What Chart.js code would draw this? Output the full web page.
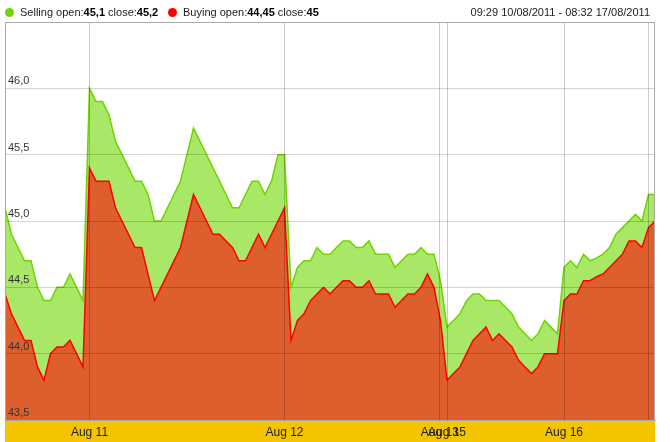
<!DOCTYPE html>
<html>
<head>
<meta charset="utf-8">
<script src="https://cdn.jsdelivr.net/npm/chart.js@4/dist/chart.umd.min.js"></script>
<style>
  body { margin: 0; background: #fff; }
  #wrap { position: relative; width: 670px; height: 442px; }
  #legend { position: absolute; left: 0; top: 0; width: 670px; height: 22px;
    font: 11px Arial, "Liberation Sans", sans-serif; color: #222; }
  #legend .dot { position: absolute; top: 8px; width: 9px; height: 9px; border-radius: 50%; }
  #legend .txt { position: absolute; top: 6px; white-space: nowrap; }
  #legend b { color: #000; }
  #range { position: absolute; right: 20px; top: 6px; white-space: nowrap; }
  canvas { position: absolute; left: 0; top: 0; }
</style>
</head>
<body>
<div id="wrap">
  <canvas id="chart" width="670" height="442"></canvas>
  <div id="legend">
    <span class="dot" style="left:4.5px;background:#6fd400"></span>
    <span class="txt" id="sellTxt" style="left:20px"></span>
    <span class="dot" style="left:167.5px;background:#ff0000"></span>
    <span class="txt" id="buyTxt" style="left:183px"></span>
    <span id="range"></span>
  </div>
</div>
<script>
// x ticks (point index where each day starts)
const tickPos = [13, 43, 66.9, 68, 86, 99]
const tickLabels = ['Aug 11', 'Aug 12', 'Aug 13', 'Aug 15', 'Aug 16', '']
const rangeText = '09:29 10/08/2011 - 08:32 17/08/2011'

// Selling price, one value per point
const selling = [
  45.10, 44.90, 44.80, 44.70, 44.70, 44.50, 44.40, 44.40, 44.50, 44.50,
  44.60, 44.50, 44.40, 46.00, 45.90, 45.90, 45.80, 45.60, 45.50, 45.40,
  45.30, 45.30, 45.20, 45.00, 45.00, 45.10, 45.20, 45.30, 45.50, 45.70,
  45.60, 45.50, 45.40, 45.30, 45.20, 45.10, 45.10, 45.20, 45.30, 45.30,
  45.20, 45.30, 45.50, 45.50, 44.50, 44.65, 44.70, 44.70, 44.80, 44.75,
  44.75, 44.80, 44.85, 44.85, 44.80, 44.80, 44.85, 44.75, 44.75, 44.75,
  44.65, 44.70, 44.75, 44.75, 44.80, 44.75, 44.75, 44.55, 44.20, 44.25,
  44.30, 44.40, 44.45, 44.45, 44.40, 44.40, 44.40, 44.35, 44.30, 44.20,
  44.15, 44.10, 44.15, 44.25, 44.20, 44.15, 44.65, 44.70, 44.65, 44.75,
  44.70, 44.72, 44.75, 44.80, 44.90, 44.95, 45.00, 45.05, 45.00, 45.20,
  45.20
]

// Buying price
const buying = [
  44.45, 44.30, 44.20, 44.10, 44.10, 43.90, 43.80, 44.00, 44.05, 44.05,
  44.10, 44.00, 43.90, 45.40, 45.30, 45.30, 45.30, 45.10, 45.00, 44.90,
  44.80, 44.80, 44.60, 44.40, 44.50, 44.60, 44.70, 44.80, 45.00, 45.20,
  45.10, 45.00, 44.90, 44.90, 44.85, 44.80, 44.70, 44.70, 44.80, 44.90,
  44.80, 44.90, 45.00, 45.10, 44.10, 44.25, 44.30, 44.40, 44.45, 44.50,
  44.45, 44.50, 44.55, 44.55, 44.50, 44.50, 44.55, 44.45, 44.45, 44.45,
  44.35, 44.40, 44.45, 44.45, 44.50, 44.60, 44.50, 44.25, 43.80, 43.85,
  43.90, 44.00, 44.10, 44.15, 44.20, 44.10, 44.15, 44.10, 44.05, 43.95,
  43.90, 43.85, 43.90, 44.00, 44.00, 44.00, 44.40, 44.45, 44.45, 44.55,
  44.55, 44.58, 44.60, 44.65, 44.70, 44.75, 44.85, 44.85, 44.80, 44.95,
  45.00
]

const fmt = v => String(+v.toFixed(2)).replace('.', ',')
document.getElementById('sellTxt').innerHTML =
  'Selling open:<b>' + fmt(selling[0]) + '</b> close:<b>' + fmt(selling[selling.length - 1]) + '</b>'
document.getElementById('buyTxt').innerHTML =
  'Buying open:<b>' + fmt(buying[0]) + '</b> close:<b>' + fmt(buying[buying.length - 1]) + '</b>'
document.getElementById('range').textContent = rangeText

Chart.defaults.font.family = 'Arial, "Liberation Sans", sans-serif'

// yellow strip under the plot + frame round the plot
const frame = {
  id: 'frame',
  beforeDraw(chart) {
    const { ctx, chartArea: a } = chart
    ctx.save()
    ctx.fillStyle = '#f4c400'
    ctx.fillRect(a.left, a.bottom, a.right - a.left, chart.height - a.bottom)
    ctx.restore()
  },
  afterDraw(chart) {
    const { ctx, chartArea: a } = chart
    ctx.save()
    ctx.strokeStyle = '#aaaaaa'
    ctx.lineWidth = 1
    ctx.strokeRect(a.left + 0.5, a.top + 0.5, a.right - a.left - 1, a.bottom - a.top)
    ctx.restore()
  }
}

new Chart(document.getElementById('chart').getContext('2d'), {
  type: 'line',
  data: {
    datasets: [{
      label: 'Selling',
      data: selling.map((v, i) => ({ x: i, y: v })),
      borderColor: '#6fd400',
      backgroundColor: '#a8e866',
      borderWidth: 1.5,
      fill: 'start',
      order: 2
    }, {
      label: 'Buying',
      data: buying.map((v, i) => ({ x: i, y: v })),
      borderColor: '#ff0000',
      backgroundColor: '#dd5f2d',
      borderWidth: 1.5,
      fill: 'start',
      order: 1
    }]
  },
  options: {
    responsive: false,
    animation: false,
    layout: { padding: { left: 5, right: 15, top: 22, bottom: 0 } },
    plugins: {
      legend: { display: false },
      title: { display: false },
      tooltip: { enabled: false }
    },
    elements: {
      point: { radius: 0 },
      line: { tension: 0 }
    },
    scales: {
      x: {
        type: 'linear',
        min: 0,
        max: 100,
        afterBuildTicks: ax => { ax.ticks = tickPos.map(v => ({ value: v })) },
        afterFit: ax => { ax.height = 22 },
        grid: { color: 'rgba(0,0,0,0.2)', drawTicks: false, z: 1 },
        border: { color: '#aaaaaa', z: 1 },
        ticks: {
          autoSkip: false,
          maxRotation: 0,
          padding: 5,
          color: '#222',
          font: { size: 12 },
          z: 1,
          callback: (v, i) => tickLabels[i]
        }
      },
      y: {
        min: 43.5,
        max: 46.5,
        afterFit: ax => { ax.width = 0 },
        grid: { color: 'rgba(0,0,0,0.17)', drawTicks: false, z: 1 },
        border: { color: '#aaaaaa', z: 1 },
        ticks: {
          stepSize: 0.5,
          mirror: true,
          padding: 3,
          labelOffset: -7,
          color: '#333',
          font: { size: 11 },
          z: 1,
          callback: v => v >= 46.5 ? '' : v.toFixed(1).replace('.', ',')
        }
      }
    }
  },
  plugins: [frame]
})
</script>
</body>
</html>
